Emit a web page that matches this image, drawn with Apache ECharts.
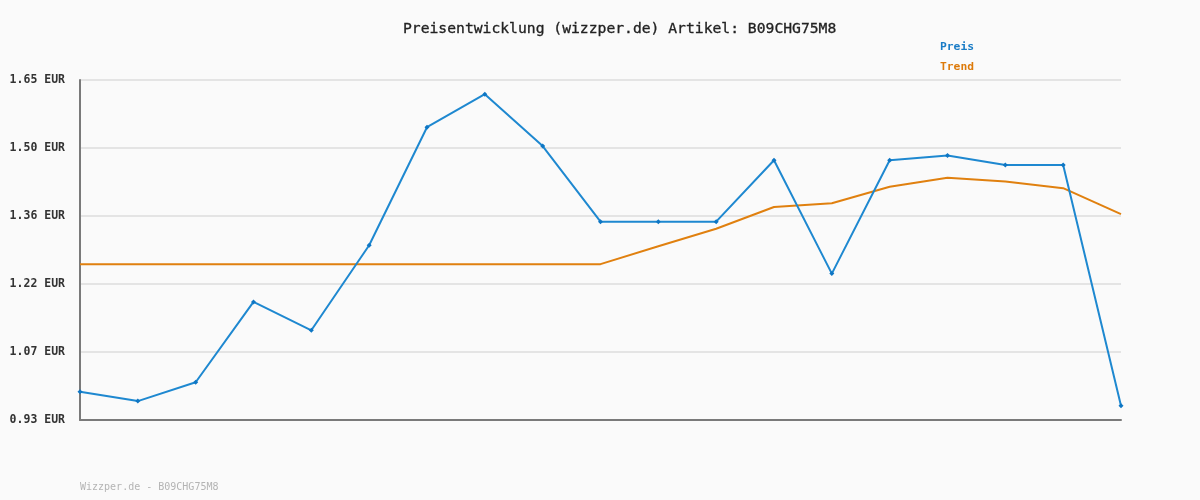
<!DOCTYPE html>
<html>
<head>
<meta charset="utf-8">
<script src="https://cdn.jsdelivr.net/npm/echarts@6/dist/echarts.min.js"></script>
<style>html,body{margin:0;padding:0;background:#fafafa;}#c{width:1200px;height:500px;}</style>
</head>
<body>
<div id="c"></div>
<script>
const categories = ['1','2','3','4','5','6','7','8','9','10','11','12','13','14','15','16','17','18','19'];
const preis = [0.99, 0.97, 1.01, 1.18, 1.12, 1.30, 1.55, 1.62, 1.51, 1.35, 1.35, 1.35, 1.48, 1.24, 1.48, 1.49, 1.47, 1.47, 0.96];
const trend = [1.26, 1.26, 1.26, 1.26, 1.26, 1.26, 1.26, 1.26, 1.26, 1.26, 1.298, 1.335, 1.381, 1.389, 1.424, 1.443, 1.435, 1.421, 1.366];
const tickValues = [0.93, 1.074, 1.218, 1.362, 1.506, 1.65];
const tickLabels = ['0.93 EUR', '1.07 EUR', '1.22 EUR', '1.36 EUR', '1.50 EUR', '1.65 EUR'];
const titleText = 'Preisentwicklung (wizzper.de) Artikel: B09CHG75M8';
const footerText = 'Wizzper.de - B09CHG75M8';

const mono = '"DejaVu Sans Mono", "Liberation Mono", monospace';
const chart = echarts.init(document.getElementById('c'), null, {renderer: 'canvas'});
chart.setOption({
  backgroundColor: '#fafafa',
  animation: false,
  title: [
    {text: titleText, left: 398, top: 17, textStyle: {fontFamily: mono, fontSize: 14.7, fontWeight: 'normal', color: '#222222', textBorderColor: '#222222', textBorderWidth: 0.3}},
    {text: footerText, left: 75, top: 477, textStyle: {fontFamily: mono, fontSize: 10, fontWeight: 'normal', color: '#b4b4b4'}}
  ],
  legend: {
    orient: 'vertical', left: 930, top: 37, itemWidth: 0, itemHeight: 0, itemGap: 9, icon: 'none',
    textStyle: {fontFamily: mono, fontSize: 11.3, fontWeight: 'bold'},
    data: [
      {name: 'Preis', textStyle: {color: '#1a7cc6'}},
      {name: 'Trend', textStyle: {color: '#dd7a0a'}}
    ]
  },
  grid: {left: 80, right: 79, top: 80, bottom: 80, containLabel: false},
  xAxis: {
    type: 'category', data: categories, boundaryGap: false,
    axisLine: {show: true, lineStyle: {color: '#7a7a7a', width: 2}},
    axisTick: {show: false}, axisLabel: {show: false}, splitLine: {show: false}
  },
  yAxis: {
    type: 'value', min: 0.93, max: 1.65,
    axisLine: {show: true, lineStyle: {color: '#7a7a7a', width: 2}},
    axisTick: {show: false, customValues: tickValues},
    axisLabel: {
      customValues: tickValues, margin: 15,
      fontFamily: mono, fontSize: 11.5, fontWeight: 'bold', color: '#333333',
      formatter: function (v) {
        let best = 0;
        for (let i = 0; i < tickValues.length; i++) if (Math.abs(tickValues[i] - v) < Math.abs(tickValues[best] - v)) best = i;
        return tickLabels[best];
      }
    },
    splitLine: {show: true, lineStyle: {color: '#e4e4e4', width: 2}}
  },
  series: [
    {name: 'Trend', type: 'line', data: trend, symbol: 'none', lineStyle: {color: '#e0800f', width: 2}, itemStyle: {color: '#e0800f'}, z: 2},
    {name: 'Preis', type: 'line', data: preis, symbol: 'diamond', symbolSize: 5, lineStyle: {color: '#1e88d0', width: 2}, itemStyle: {color: '#0e76c4'}, z: 3}
  ]
});
</script>
</body>
</html>
